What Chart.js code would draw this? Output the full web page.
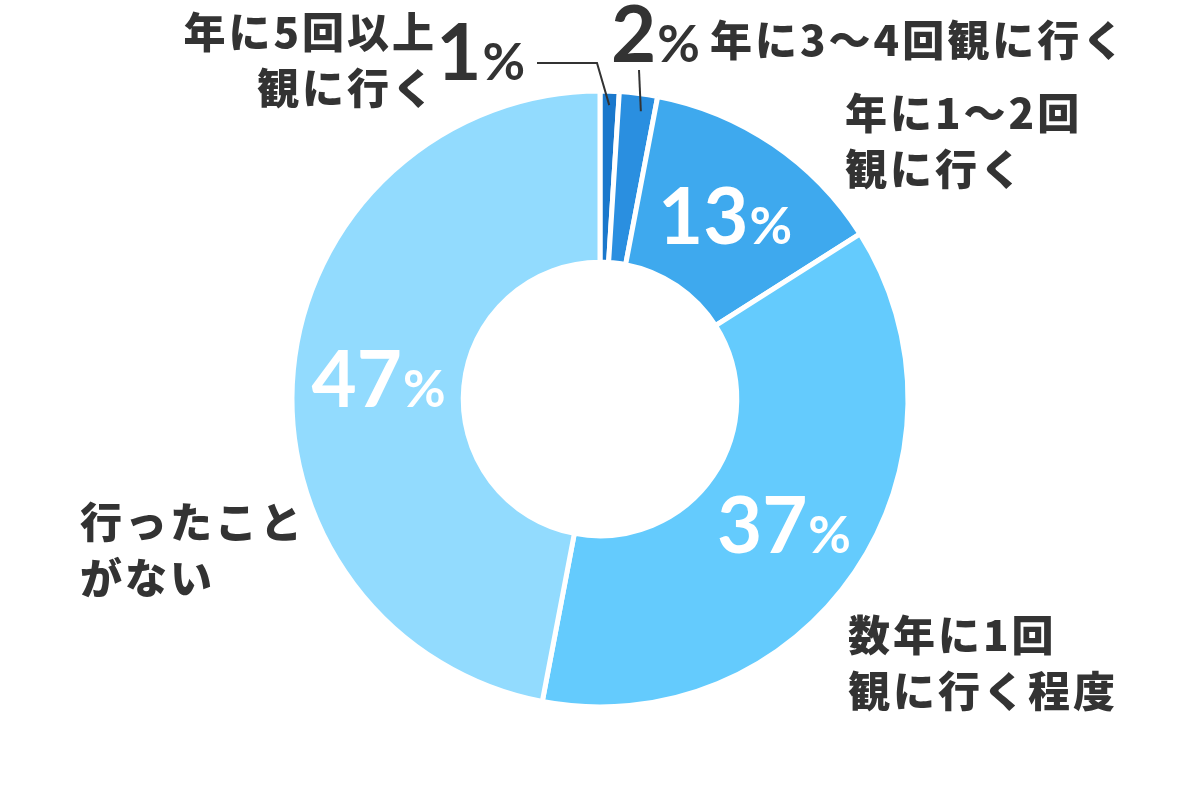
<!DOCTYPE html>
<html>
<head>
<meta charset="utf-8">
<script src="https://cdn.jsdelivr.net/npm/chart.js@4.4.1/dist/chart.umd.min.js"></script>
<style>
  html, body { margin: 0; background: #fff; }
  #wrap { width: 1200px; height: 800px; }
</style>
</head>
<body>
<div id="wrap"><canvas id="donut"></canvas></div>
<script>
// data
const categories = ['年に5回以上\n観に行く', '年に3〜4回観に行く', '年に1〜2回\n観に行く', '数年に1回\n観に行く程度', '行ったこと\nがない'];
const values = [1, 2, 13, 37, 47];

const sliceColors = ['#1a78cc', '#2a8fe0', '#3ea9ee', '#64cbfd', '#92dbfe'];
const textColor = '#333333';
const jpFont = '"Noto Sans CJK JP", "Noto Sans", sans-serif';
const numFont = 'Lato, "Open Sans", sans-serif';

// where the category captions sit, relative to the chart centre
const captionPlace = [
  { dx: -163, dy: -367, align: 'right' },
  { dx: 110, dy: -359, align: 'left' },
  { dx: 245, dy: -286, align: 'left' },
  { dx: 248, dy: 236, align: 'left' },
  { dx: -520, dy: 123, align: 'left' }
];

function drawPercent(ctx, value, x, y, align) {
  const big = 78, small = 52;
  const num = String(value);
  ctx.font = `bold ${big}px ${numFont}`;
  const w1 = ctx.measureText(num).width;
  ctx.font = `bold ${small}px ${numFont}`;
  const w2 = ctx.measureText('%').width;
  const gap = 1;
  let left = x;
  if (align === 'center') left = x - (w1 + gap + w2) / 2;
  if (align === 'right') left = x - (w1 + gap + w2);
  ctx.textAlign = 'left';
  ctx.textBaseline = 'alphabetic';
  ctx.font = `bold ${big}px ${numFont}`;
  ctx.fillText(num, left, y);
  ctx.font = `bold ${small}px ${numFont}`;
  ctx.fillText('%', left + w1 + gap, y);
}

const labelPlugin = {
  id: 'donutLabels',
  afterDatasetsDraw(chart) {
    const ctx = chart.ctx;
    const meta = chart.getDatasetMeta(0);
    const cx = meta.data[0].x, cy = meta.data[0].y;
    ctx.save();

    // percentages inside the big slices
    ctx.fillStyle = '#ffffff';
    meta.data.forEach((arc, i) => {
      if (values[i] < 10) return;
      const p = arc.getCenterPoint();
      drawPercent(ctx, values[i], p.x, p.y + 29, 'center');
    });

    // small slices: labels outside with leader lines
    ctx.fillStyle = textColor;
    ctx.strokeStyle = textColor;
    ctx.lineWidth = 2;
    const a0 = meta.data[0], a1 = meta.data[1];
    const mid0 = (a0.startAngle + a0.endAngle) / 2;
    const mid1 = (a1.startAngle + a1.endAngle) / 2;
    const r0 = a0.outerRadius - 14;
    ctx.beginPath();
    ctx.moveTo(cx + Math.cos(mid0) * r0, cy + Math.sin(mid0) * r0);
    ctx.lineTo(cx - 3, cy - 336);
    ctx.lineTo(cx - 63, cy - 336);
    ctx.stroke();
    ctx.beginPath();
    ctx.moveTo(cx + Math.cos(mid1) * r0 + 4, cy + Math.sin(mid1) * r0 + 4);
    ctx.lineTo(cx + 39, cy - 329);
    ctx.stroke();
    drawPercent(ctx, values[0], cx - 75, cy - 319, 'right');
    drawPercent(ctx, values[1], cx + 11, cy - 337, 'left');

    // category captions
    ctx.font = `900 42px ${jpFont}`;
    ctx.textBaseline = 'middle';
    ctx.letterSpacing = '3px';
    categories.forEach((text, i) => {
      const pl = captionPlace[i];
      ctx.textAlign = pl.align;
      text.split('\n').forEach((line, k) => {
        ctx.fillText(line, cx + pl.dx, cy + pl.dy + k * 56);
      });
    });
    ctx.restore();
  }
};

new Chart(document.getElementById('donut'), {
  type: 'doughnut',
  data: {
    labels: categories,
    datasets: [{
      data: values,
      backgroundColor: sliceColors,
      borderColor: '#ffffff',
      borderWidth: 5,
      hoverOffset: 0
    }]
  },
  options: {
    responsive: true,
    maintainAspectRatio: false,
    animation: false,
    radius: 308,
    cutout: 137,
    layout: { padding: { top: 88, bottom: 90 } },
    events: [],
    plugins: {
      legend: { display: false },
      tooltip: { enabled: false }
    }
  },
  plugins: [labelPlugin]
});
</script>
</body>
</html>
